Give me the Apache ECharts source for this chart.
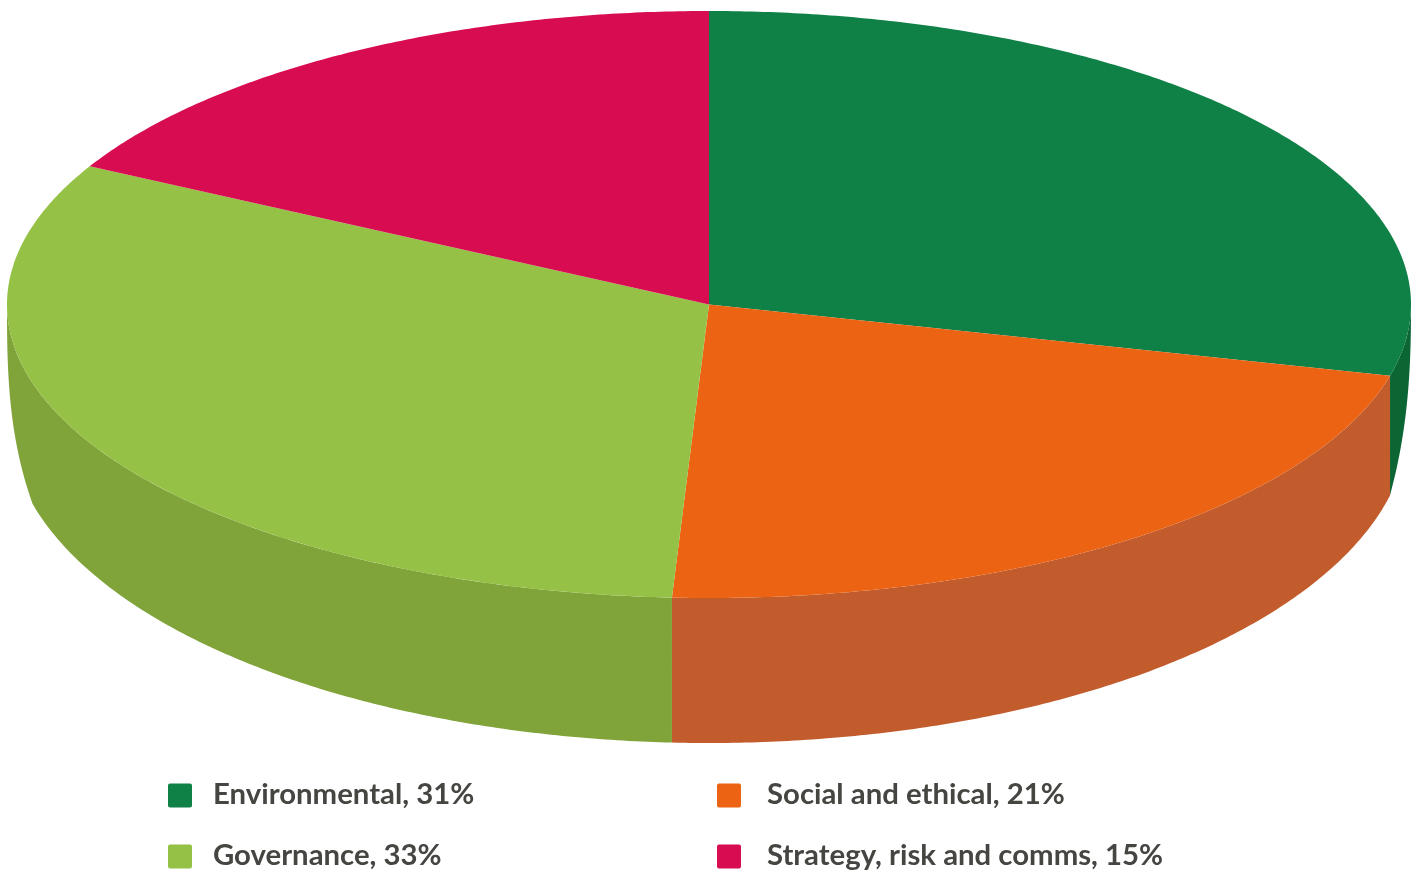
<!DOCTYPE html>
<html><head><meta charset="utf-8">
<style>html,body{margin:0;padding:0;background:#fff}#c{width:1422px;height:873px}</style>
<script src="https://cdn.jsdelivr.net/npm/echarts@6/dist/echarts.min.js"></script>
</head><body><div id="c"></div>
<script>
const categories = ['Environmental', 'Social and ethical', 'Governance', 'Strategy, risk and comms'];
const labelPercents = [31, 21, 33, 15];
// Share of the drawn ellipse (perspective differs from the labels)
const drawnShares = [28.9, 21.94, 31.96, 17.2];
const topColors = ['#0f8046', '#eb6313', '#95c246', '#d70c51'];
const sideColors = ['#0b6634', '#c25c2d', '#80a43a', '#a80a40'];

const cx = 709, cy = 304.5, rx = 702, ry = 293.5;
const bcy = 421, brx = 700, bry = 322;
const kneeR = 14, kneeL = 15.6, kneeDyR = 190.5, kneeDyL = 200.5, kneeDxR = 21, kneeDxL = 26;

function topPt(deg) {
  const t = deg * Math.PI / 180;
  return [cx + rx * Math.sin(t), cy - ry * Math.cos(t)];
}
function lowPt(deg) {
  if (deg < 90 + kneeR) {
    const u = (deg - 90) / kneeR;
    return [cx + rx - kneeDxR * Math.pow(u, 2.5), cy + kneeDyR * u];
  }
  if (deg > 270 - kneeL) {
    const u = (270 - deg) / kneeL;
    return [cx - rx + kneeDxL * Math.pow(u, 2.8), cy + kneeDyL * u];
  }
  const x = topPt(deg)[0];
  const k = (x - cx) / brx;
  return [x, bcy + bry * Math.sqrt(Math.max(0, 1 - k * k))];
}
function arc(fn, a, b) {
  const pts = [], n = Math.max(2, Math.ceil(Math.abs(b - a) * 2));
  for (let i = 0; i <= n; i++) pts.push(fn(a + (b - a) * i / n));
  return pts;
}
function renderSlice(idx) {
  return function (params, api) {
    const a = api.value(0) * 3.6, b = api.value(1) * 3.6;
    const children = [];
    const wa = Math.max(a, 90), wb = Math.min(b, 270);
    if (wb > wa) {
      children.push({
        type: 'polygon',
        shape: { points: arc(topPt, wa, wb).concat(arc(lowPt, wb, wa)) },
        style: { fill: sideColors[idx] }
      });
    }
    children.push({
      type: 'polygon',
      shape: { points: [[cx, cy]].concat(arc(topPt, a, b)) },
      style: { fill: topColors[idx] }
    });
    return { type: 'group', children };
  };
}
const names = categories.map((c, i) => c + ', ' + labelPercents[i] + '%');
let acc = 0;
const series = categories.map((c, i) => {
  const start = acc; acc += drawnShares[i];
  return {
    name: names[i], type: 'custom', coordinateSystem: 'none',
    itemStyle: { color: topColors[i] }, silent: true,
    data: [[start, acc]], renderItem: renderSlice(i), z: 2
  };
});
// Square with an empty 2px head-room so the label centre sits above the square's centre
const icon = 'path://M0 -2L0 -2ZM2 0H22Q24 0 24 2V22Q24 24 22 24H2Q0 24 0 22V2Q0 0 2 0Z';
const legendSpots = [[168, 780, 16], [717, 780, 21], [168, 841, 16], [717, 841, 21]];
const chart = echarts.init(document.getElementById('c'), null, { renderer: 'canvas' });
chart.setOption({
  animation: false,
  backgroundColor: '#fff',
  color: topColors,
  legend: names.map((n, i) => ({
    orient: 'horizontal', itemWidth: 24, itemHeight: 26, icon, padding: 0, selectedMode: false,
    left: legendSpots[i][0], top: legendSpots[i][1], data: [n],
    textStyle: {
      fontFamily: 'Lato', fontWeight: 'bold', fontSize: 29.33, color: '#454541', lineHeight: 24,
      padding: [0, 0, 0, legendSpots[i][2]]
    }
  })),
  series
});
</script></body></html>
